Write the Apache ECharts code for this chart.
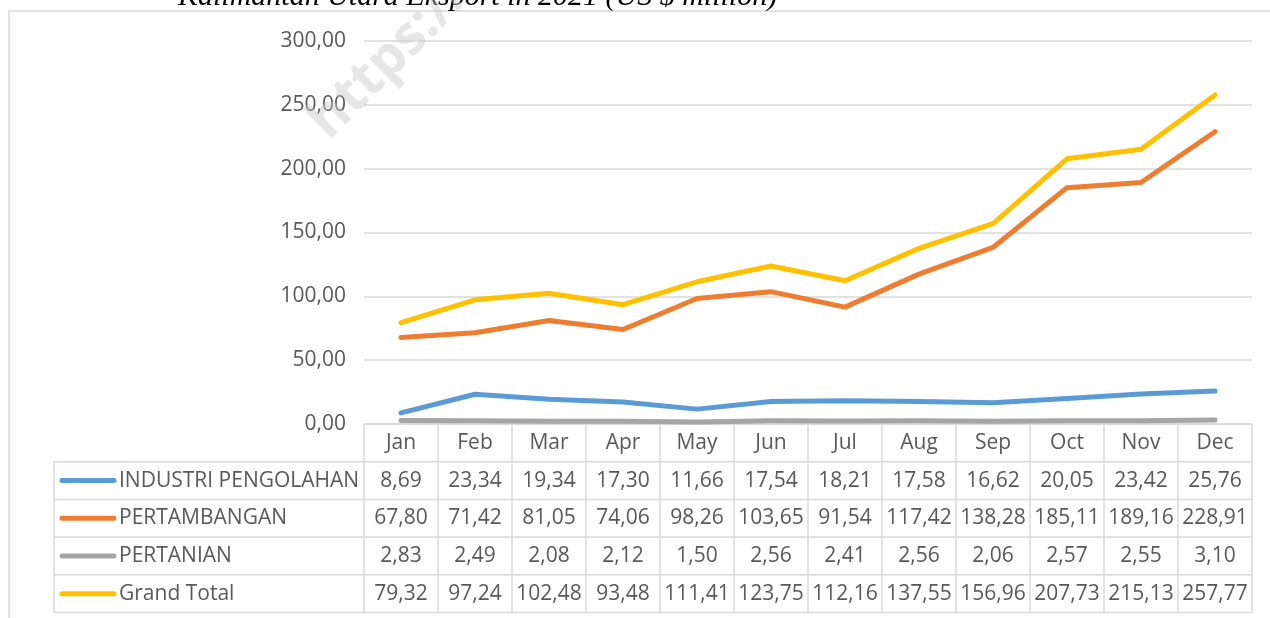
<!DOCTYPE html>
<html>
<head>
<meta charset="utf-8">
<script src="https://cdn.jsdelivr.net/npm/echarts@6/dist/echarts.min.js"></script>
<style>
  html, body { margin: 0; padding: 0; background: #fff; }
  #chart { width: 1270px; height: 618px; }
</style>
</head>
<body>
<div id="chart"></div>
<script>
// data
const months = ["Jan", "Feb", "Mar", "Apr", "May", "Jun", "Jul", "Aug", "Sep", "Oct", "Nov", "Dec"];
const industri = [8.69, 23.34, 19.34, 17.30, 11.66, 17.54, 18.21, 17.58, 16.62, 20.05, 23.42, 25.76];
const pertambangan = [67.80, 71.42, 81.05, 74.06, 98.26, 103.65, 91.54, 117.42, 138.28, 185.11, 189.16, 228.91];
const pertanian = [2.83, 2.49, 2.08, 2.12, 1.50, 2.56, 2.41, 2.56, 2.06, 2.57, 2.55, 3.10];
const grandTotal = [79.32, 97.24, 102.48, 93.48, 111.41, 123.75, 112.16, 137.55, 156.96, 207.73, 215.13, 257.77];
const seriesNames = ["INDUSTRI PENGOLAHAN", "PERTAMBANGAN", "PERTANIAN", "Grand Total"];
const seriesData = [industri, pertambangan, pertanian, grandTotal];
const colors = ["#5B9BD5", "#ED7D31", "#A5A5A5", "#FFC000"];

const txt = "#595959";
const gridCol = "#d9d9d9";
const font = "Open Sans";
const fmt = (v) => v.toFixed(2).replace(".", ",");

const myChart = echarts.init(document.getElementById("chart"));

let option = {
	animation: false,
	color: colors,
	grid: { left: 364, right: 18, top: 41, bottom: 194 },
	xAxis: {
		type: "category",
		data: months,
		boundaryGap: true,
		axisLine: { show: false },
		axisTick: { show: false },
		axisLabel: { show: false },
	},
	yAxis: {
		type: "value",
		min: 0,
		max: 300,
		interval: 50,
		axisLine: { show: false },
		axisTick: { show: false },
		axisLabel: {
			formatter: (v) => fmt(v),
			color: txt,
			fontFamily: font,
			fontSize: 21,
			margin: 18,
		},
		splitLine: { lineStyle: { color: gridCol, width: 1.5 } },
	},
	series: seriesNames.map((name, i) => ({
		name: name,
		type: "line",
		data: seriesData[i],
		showSymbol: false,
		lineStyle: { width: 5, color: colors[i], cap: "round", join: "round" },
		z: 3 + i,
	})),
};
myChart.setOption(option);

// data table under the plot, laid out on the category axis
const g = [];
const half = (myChart.convertToPixel({ xAxisIndex: 0 }, months[1]) - myChart.convertToPixel({ xAxisIndex: 0 }, months[0])) / 2;
const x0 = myChart.convertToPixel({ xAxisIndex: 0 }, months[0]) - half;
const x1 = myChart.convertToPixel({ xAxisIndex: 0 }, months[months.length - 1]) + half;
const headTop = myChart.convertToPixel({ yAxisIndex: 0 }, 0);
const rowH = 37.7;
const tableLeft = 54;
const rowTops = [headTop, headTop + rowH, headTop + rowH * 2, headTop + rowH * 3, headTop + rowH * 4, headTop + rowH * 5];
const lineSt = { stroke: gridCol, lineWidth: 1.5 };
const cellFont = "21px '" + font + "'";

// outer chart frame
g.push({ type: "rect", shape: { x: 9, y: 11, width: 1300, height: 700 }, style: { fill: null, stroke: gridCol, lineWidth: 1.5 }, silent: true });

// title (cut off at the top edge)
g.push({
	type: "text", x: 178, y: -3,
	style: { text: "Kalimantan Utara Eksport in 2021 (US $ million)", font: "italic 30px 'Liberation Serif'", fill: "#000", verticalAlign: "middle", align: "left" },
});

// horizontal lines
g.push({ type: "line", shape: { x1: x0, y1: rowTops[0], x2: x1, y2: rowTops[0] }, style: lineSt });
for (let r = 1; r < rowTops.length; r++) {
	g.push({ type: "line", shape: { x1: tableLeft, y1: rowTops[r], x2: x1, y2: rowTops[r] }, style: lineSt });
}
// vertical lines
g.push({ type: "line", shape: { x1: tableLeft, y1: rowTops[1], x2: tableLeft, y2: rowTops[5] }, style: lineSt });
for (let c = 0; c <= months.length; c++) {
	const xx = x0 + c * half * 2;
	g.push({ type: "line", shape: { x1: xx, y1: rowTops[0], x2: xx, y2: rowTops[5] }, style: lineSt });
}
// month header
months.forEach((m, c) => {
	g.push({
		type: "text", x: myChart.convertToPixel({ xAxisIndex: 0 }, m), y: rowTops[0] + rowH / 2,
		style: { text: m, fill: txt, font: cellFont, align: "center", verticalAlign: "middle" },
	});
});
// rows
seriesNames.forEach((name, r) => {
	const cy = rowTops[r + 1] + rowH / 2;
	g.push({ type: "line", shape: { x1: 62, y1: cy, x2: 114, y2: cy }, style: { stroke: colors[r], lineWidth: 5, lineCap: "round" } });
	g.push({
		type: "text", x: 119, y: cy,
		style: { text: name, fill: txt, font: cellFont, align: "left", verticalAlign: "middle" },
	});
	seriesData[r].forEach((v, c) => {
		g.push({
			type: "text", x: myChart.convertToPixel({ xAxisIndex: 0 }, months[c]), y: cy,
			style: { text: fmt(v), fill: txt, font: cellFont, align: "center", verticalAlign: "middle" },
		});
	});
});

// faint watermark
g.push({
	type: "text", x: 318, y: 130, rotation: Math.PI / 4, z: 100,
	style: { text: "https://", fill: "rgba(200,200,200,0.45)", font: "bold 54px 'Open Sans'", align: "left", verticalAlign: "middle" },
});

myChart.setOption({ graphic: g });
</script>
</body>
</html>
